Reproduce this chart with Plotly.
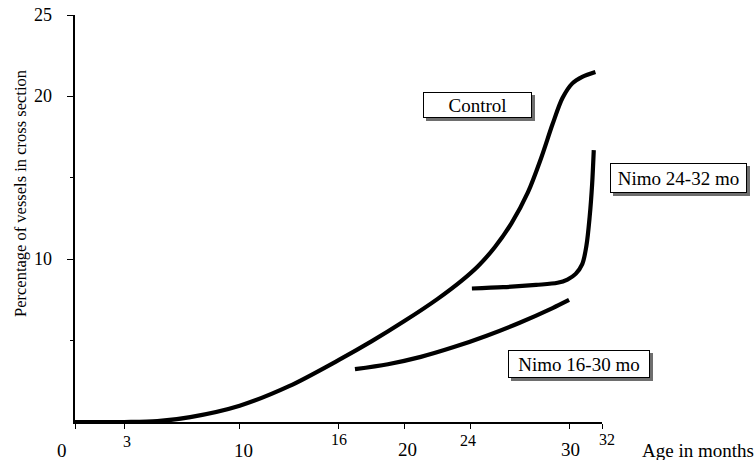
import plotly.graph_objects as go

# ---- data ----
control_x = [0, 3, 5, 7, 10, 13, 16, 18, 20, 22, 23.5, 24.5, 25.5, 26.5, 27.5, 28.3, 29, 29.6, 30.2, 30.8, 31.6]
control_y = [0, 0, 0.05, 0.3, 1.0, 2.2, 3.8, 4.95, 6.2, 7.55, 8.7, 9.6, 10.75, 12.2, 14.1, 16.2, 18.3, 19.9, 20.8, 21.2, 21.5]

nimo2432_x = [24.1, 26, 28, 29.3, 29.9, 30.4, 30.8, 31.05, 31.25, 31.4, 31.5]
nimo2432_y = [8.2, 8.28, 8.42, 8.55, 8.75, 9.1, 9.7, 10.8, 12.6, 14.6, 16.7]

nimo1630_x = [17, 19, 21, 23, 25, 27, 29, 30]
nimo1630_y = [3.25, 3.55, 4.0, 4.6, 5.3, 6.1, 7.0, 7.5]

x_tick_vals = [0, 3, 10, 16, 20, 24, 30, 32]
x_tick_text = ["0", "3", "10", "16", "20", "24", "30", "32"]
y_tick_vals = [10, 20, 25]
y_tick_text = ["10", "20", "25"]
y_minor_vals = [5, 15]

series_names = ["Control", "Nimo 24-32 mo", "Nimo 16-30 mo"]

# ---- styles / layout geometry ----
W, H = 756, 460
ML, MR, MT, MB = 75, 154, 15, 38
PW, PH = W - ML - MR, H - MT - MB
FONT = "Liberation Serif, Times New Roman, serif"

x_lab_shift = [-13, 3, 4, 0, 3, -2, 1, 5]
x_lab_ypix = [450, 441, 450, 439, 449, 440, 449, 439]
x_lab_size = [19, 16, 19, 16, 19, 16, 19, 16]

fig = go.Figure()
for xs, ys, nm in [(control_x, control_y, series_names[0]),
                   (nimo2432_x, nimo2432_y, series_names[1]),
                   (nimo1630_x, nimo1630_y, series_names[2])]:
    fig.add_trace(go.Scatter(x=xs, y=ys, mode="lines", name=nm,
                             line=dict(color="black", width=4.2, shape="spline", smoothing=0.9),
                             cliponaxis=False, showlegend=False, hoverinfo="skip"))

ann = []
# x tick labels
for v, t, dx, py, sz in zip(x_tick_vals, x_tick_text, x_lab_shift, x_lab_ypix, x_lab_size):
    ann.append(dict(x=v, y=0, xref="x", yref="paper", text=t, showarrow=False,
                    xanchor="center", yanchor="middle", xshift=dx, yshift=-(py - (MT + PH)),
                    font=dict(family=FONT, size=sz, color="black")))
# y tick labels
for v, t in zip(y_tick_vals, y_tick_text):
    ann.append(dict(x=0, y=v, xref="paper", yref="y", text=t, showarrow=False,
                    xanchor="right", yanchor="middle", xshift=-(ML - 54),
                    font=dict(family=FONT, size=18, color="black")))
# axis titles
ann.append(dict(x=0, y=(MT + PH - 194) / PH, xref="paper", yref="paper",
                text="Percentage of vessels in cross section", textangle=-90, showarrow=False,
                xanchor="center", yanchor="middle", xshift=-(ML - 20),
                font=dict(family=FONT, size=16.5, color="black")))
ann.append(dict(x=(640 - ML) / PW, y=0, xref="paper", yref="paper", text="Age in months",
                showarrow=False, xanchor="left", yanchor="middle", yshift=-(450 - (MT + PH)),
                font=dict(family=FONT, size=19, color="black")))

# labelled boxes with shadow: (name, centre px x, centre px y, width, height)
boxes = [(series_names[0], 477.5, 105, 109, 26),
         (series_names[1], 678.5, 178, 137, 30),
         (series_names[2], 579, 364, 142, 28)]
for nm, cx, cy, bw, bh in boxes:
    px = (cx - ML) / PW
    py = (MT + PH - cy) / PH
    ann.append(dict(x=px, y=py, xref="paper", yref="paper", text="", showarrow=False,
                    xanchor="center", yanchor="middle", xshift=3, yshift=-3,
                    width=bw - 2, height=bh - 2, bgcolor="#6e6e6e", borderwidth=1,
                    bordercolor="#6e6e6e", borderpad=0))
    ann.append(dict(x=px, y=py, xref="paper", yref="paper", text=nm, showarrow=False,
                    xanchor="center", yanchor="middle", width=bw - 2, height=bh - 2,
                    bgcolor="white", bordercolor="black", borderwidth=1, borderpad=0,
                    font=dict(family=FONT, size=19, color="black")))

fig.update_layout(
    width=W, height=H, margin=dict(l=ML, r=MR, t=MT, b=MB),
    paper_bgcolor="white", plot_bgcolor="white",
    xaxis=dict(range=[0, 32], showgrid=False, zeroline=False, showline=True,
               linecolor="black", linewidth=1.5, ticks="outside", tickvals=x_tick_vals,
               ticklen=5, tickcolor="black", tickwidth=1, showticklabels=False),
    yaxis=dict(range=[0, 25], showgrid=False, zeroline=False, showline=True,
               linecolor="black", linewidth=1.5, ticks="outside", tickvals=y_tick_vals,
               ticklen=6, tickcolor="black", tickwidth=1, showticklabels=False,
               minor=dict(tickvals=y_minor_vals, ticks="outside", ticklen=3,
                          tickcolor="black", tickwidth=1)),
    annotations=ann,
)
fig.write_html("out.html")
